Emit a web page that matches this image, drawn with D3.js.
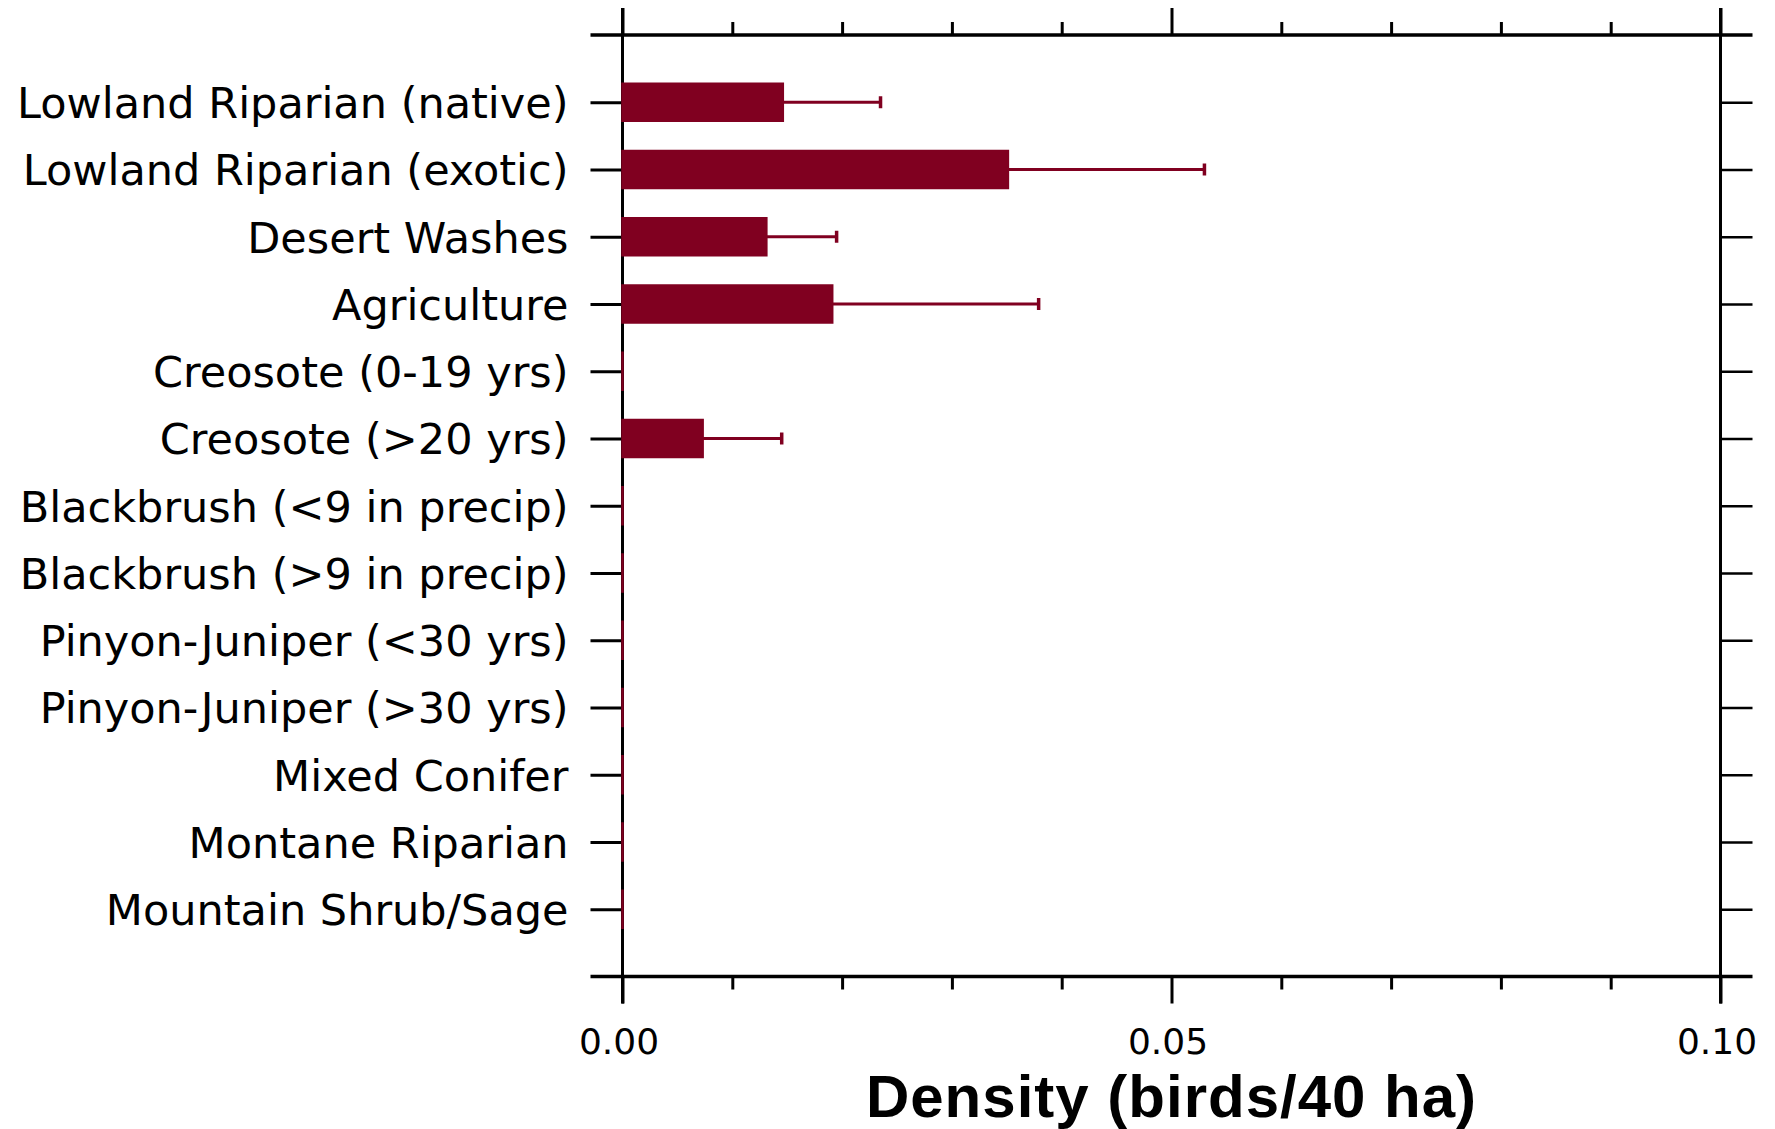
<!DOCTYPE html>
<html>
<head>
<meta charset="utf-8">
<script src="https://cdn.jsdelivr.net/npm/d3@7"></script>
<style>
  body { margin: 0; background: #fff; }
  svg { display: block; }
  .ylab text { font-family: "DejaVu Sans", sans-serif; font-size: 43px; fill: #000; }
  .xlab text { font-family: "DejaVu Sans", sans-serif; font-size: 36px; fill: #000; }
  .title { font-family: "Liberation Sans", Arial, sans-serif; font-size: 60px; font-weight: bold; letter-spacing: 1px; }
</style>
</head>
<body>
<svg id="chart" width="1775" height="1129"></svg>
<script>
// ***** Data ***** //
var habitats = [
    'Lowland Riparian (native)',
    'Lowland Riparian (exotic)',
    'Desert Washes',
    'Agriculture',
    'Creosote (0-19 yrs)',
    'Creosote (>20 yrs)',
    'Blackbrush (<9 in precip)',
    'Blackbrush (>9 in precip)',
    'Pinyon-Juniper (<30 yrs)',
    'Pinyon-Juniper (>30 yrs)',
    'Mixed Conifer',
    'Montane Riparian',
    'Mountain Shrub/Sage'
];
var density = [0.0146, 0.0351, 0.0131, 0.0191, 0, 0.0073, 0, 0, 0, 0, 0, 0, 0];
var densityErr = [0.0089, 0.0179, 0.0064, 0.0188, 0, 0.0072, 0, 0, 0, 0, 0, 0, 0];
var xTicks = [0, 0.01, 0.02, 0.03, 0.04, 0.05, 0.06, 0.07, 0.08, 0.09, 0.10];
var xTickLabels = [0, 0.05, 0.10];

// ***** Setup ***** //
var svg = d3.select('#chart');
var barColor = '#800020';

var x = d3.scaleLinear()
    .domain([0, 0.1])
    .range([622.5, 1720.5]);

var y = d3.scalePoint()
    .domain(habitats)
    .range([35, 976.5])
    .padding(1);

var yTop = y.range()[0], yBottom = y.range()[1];
var isMajor = d => xTickLabels.some(v => Math.abs(v - d) < 1e-9);

// ***** Axes ***** //
var topAxis = svg.append('g')
    .attr('transform', 'translate(0,' + yTop + ')')
    .call(d3.axisTop(x).tickValues(xTicks).tickFormat('').tickSizeOuter(0));
topAxis.selectAll('.tick line')
    .attr('y2', d => isMajor(d) ? -27 : -13)
    .attr('stroke-width', 3);

var bottomAxis = svg.append('g')
    .attr('class', 'xlab')
    .attr('transform', 'translate(0,' + yBottom + ')')
    .call(d3.axisBottom(x).tickValues(xTicks)
        .tickFormat(d => isMajor(d) ? d3.format('.2f')(d) : '')
        .tickSizeOuter(0));
bottomAxis.selectAll('.tick line')
    .attr('y2', d => isMajor(d) ? 27 : 13)
    .attr('stroke-width', 3);
bottomAxis.selectAll('.tick text')
    .attr('y', 77)
    .attr('dy', 0)
    .attr('dx', -4);

var leftAxis = svg.append('g')
    .attr('class', 'ylab')
    .attr('transform', 'translate(' + x(0) + ',0)')
    .call(d3.axisLeft(y).tickSize(32).tickPadding(22).tickSizeOuter(0));
leftAxis.selectAll('.tick line').attr('stroke-width', 3);
leftAxis.selectAll('.tick text').attr('dy', '0.36em');

var rightAxis = svg.append('g')
    .attr('transform', 'translate(' + x(0.1) + ',0)')
    .call(d3.axisRight(y).tickSize(32).tickFormat('').tickSizeOuter(0));
rightAxis.selectAll('.tick line').attr('stroke-width', 2.5);

svg.selectAll('.domain').remove();

// ***** Frame lines ***** //
var frame = svg.append('g').attr('stroke', '#000');
[yTop, yBottom].forEach(function(yy) {
    frame.append('line')
        .attr('x1', x(0) - 32).attr('x2', x(0.1) + 32)
        .attr('y1', yy).attr('y2', yy)
        .attr('stroke-width', 3.5);
});
[0, 0.1].forEach(function(v) {
    frame.append('line')
        .attr('x1', x(v)).attr('x2', x(v))
        .attr('y1', yTop - 27).attr('y2', yBottom + 27)
        .attr('stroke-width', 3);
});

// ***** Bars ***** //
var barH = 37;
var bars = svg.append('g');

bars.selectAll('line.err')
    .data(habitats)
    .enter()
    .append('line')
    .attr('class', 'err')
    .attr('x1', (d, i) => x(density[i]))
    .attr('x2', (d, i) => x(density[i] + densityErr[i]))
    .attr('y1', d => y(d))
    .attr('y2', d => y(d))
    .attr('stroke', barColor)
    .attr('stroke-width', 3);

bars.selectAll('line.cap')
    .data(habitats.filter((d, i) => densityErr[i] > 0))
    .enter()
    .append('line')
    .attr('class', 'cap')
    .attr('x1', d => x(density[habitats.indexOf(d)] + densityErr[habitats.indexOf(d)]))
    .attr('x2', d => x(density[habitats.indexOf(d)] + densityErr[habitats.indexOf(d)]))
    .attr('y1', d => y(d) - 6)
    .attr('y2', d => y(d) + 6)
    .attr('stroke', barColor)
    .attr('stroke-width', 3.5);

// zero-width rects are not painted, so keep a hairline width
bars.selectAll('rect')
    .data(habitats)
    .enter()
    .append('rect')
    .attr('x', x(0))
    .attr('y', d => y(d) - barH / 2)
    .attr('width', (d, i) => Math.max(x(density[i]) - x(0), 0.01))
    .attr('height', barH)
    .attr('fill', barColor)
    .attr('stroke', barColor)
    .attr('stroke-width', 2.5);

// ***** Title ***** //
svg.append('text')
    .attr('class', 'title')
    .attr('x', x(0.05))
    .attr('y', 1116.5)
    .attr('text-anchor', 'middle')
    .text('Density (birds/40 ha)');
</script>
</body>
</html>
